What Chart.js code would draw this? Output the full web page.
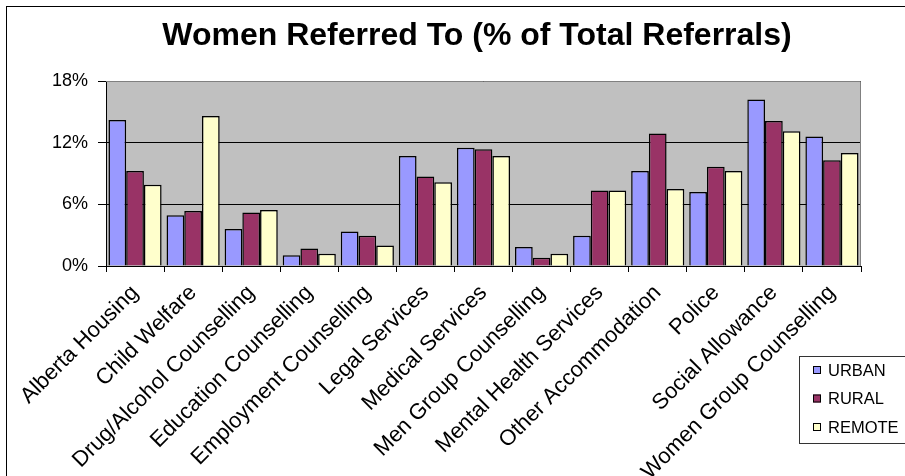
<!DOCTYPE html>
<html>
<head>
<meta charset="utf-8">
<script src="https://cdn.jsdelivr.net/npm/chart.js@4"></script>
<style>
  html, body { margin: 0; padding: 0; background: #fff; }
  #wrap { position: relative; width: 905px; height: 476px; overflow: hidden; }
  #frame { position: absolute; left: 6px; top: 6px; width: 950px; height: 520px; border: 1px solid #000; box-sizing: border-box; pointer-events: none; }
  canvas { position: absolute; left: 0; top: 0; }
</style>
</head>
<body>
<div id="wrap">
  <canvas id="grafico" width="905" height="476"></canvas>
  <div id="frame"></div>
</div>
<script>
// Dados
const categorias = [
  "Alberta Housing", "Child Welfare", "Drug/Alcohol Counselling", "Education Counselling",
  "Employment Counselling", "Legal Services", "Medical Services", "Men Group Counselling",
  "Mental Health Services", "Other Accommodation", "Police", "Social Allowance",
  "Women Group Counselling"
];
const urbano = [14.2, 4.95, 3.6, 1.05, 3.35, 10.7, 11.5, 1.85, 2.95, 9.25, 7.2, 16.2, 12.6];
const rural = [9.25, 5.35, 5.2, 1.7, 2.95, 8.7, 11.35, 0.8, 7.35, 12.9, 9.65, 14.1, 10.3];
const remoto = [7.9, 14.6, 5.45, 1.2, 2.0, 8.15, 10.7, 1.2, 7.35, 7.5, 9.25, 13.1, 11.0];
const ticksY = [0, 6, 12, 18];
const series = ["URBAN", "RURAL", "REMOTE"];
const cores = ["#9999FF", "#993366", "#FFFFCC"];

const fonte = "'Liberation Sans', Arial, sans-serif";

// fundo cinza da área do gráfico + título + legenda
const extras = {
  id: "extras",
  beforeDraw(chart) {
    const { ctx, chartArea: a } = chart;
    ctx.save();
    ctx.fillStyle = "#C0C0C0";
    ctx.fillRect(a.left, a.top, a.right - a.left, a.bottom - a.top);
    ctx.restore();
  },
  afterDraw(chart) {
    const { ctx, chartArea: a } = chart;
    ctx.save();
    // borda cinza superior/direita
    ctx.strokeStyle = "#808080";
    ctx.lineWidth = 1;
    ctx.beginPath();
    ctx.moveTo(a.left, a.top + 0.5);
    ctx.lineTo(a.right - 0.5, a.top + 0.5);
    ctx.lineTo(a.right - 0.5, a.bottom);
    ctx.stroke();
    // título
    ctx.fillStyle = "#000";
    ctx.font = "bold 32px " + fonte;
    ctx.textAlign = "center";
    ctx.textBaseline = "middle";
    ctx.fillText("Women Referred To (% of Total Referrals)", 477, 36);
    // legenda
    ctx.fillStyle = "#fff";
    ctx.fillRect(799, 356, 120, 87);
    ctx.strokeStyle = "#333";
    ctx.strokeRect(799.5, 356.5, 120, 87);
    ctx.font = "16.5px " + fonte;
    ctx.textAlign = "left";
    chart.data.datasets.forEach((ds, i) => {
      const y = 370 + i * 28.5;
      ctx.fillStyle = ds.backgroundColor;
      ctx.fillRect(813, y - 4, 8, 8);
      ctx.strokeStyle = "#000";
      ctx.strokeRect(813.5, y - 3.5, 7, 7);
      ctx.fillStyle = "#000";
      ctx.fillText(ds.label, 828, y + 1);
    });
    ctx.restore();
  }
};

new Chart(document.getElementById("grafico"), {
  type: "bar",
  data: {
    labels: categorias,
    datasets: [
      { label: series[0], data: urbano, backgroundColor: cores[0] },
      { label: series[1], data: rural, backgroundColor: cores[1] },
      { label: series[2], data: remoto, backgroundColor: cores[2] }
    ].map(d => ({ ...d, borderColor: "#000", borderWidth: 1.5, categoryPercentage: 0.915, barPercentage: 1 }))
  },
  options: {
    responsive: false,
    animation: false,
    layout: { padding: { top: 81, right: 44, left: 0, bottom: 0 } },
    plugins: { legend: { display: false }, title: { display: false }, tooltip: { enabled: false } },
    scales: {
      x: {
        offset: true,
        grid: { offset: true, drawOnChartArea: false, color: "#000", tickLength: 6 },
        border: { color: "#000", width: 1 },
        ticks: {
          color: "#000", font: { family: fonte, size: 22 },
          minRotation: 45, maxRotation: 45, autoSkip: false, padding: 8
        },
        afterFit(s) { s.height = 476 - 266; }
      },
      y: {
        min: 0, max: 18,
        afterBuildTicks(s) { s.ticks = ticksY.map(v => ({ value: v })); },
        grid: { color: "#000", tickLength: 8, drawTicks: true },
        border: { color: "#000", width: 1 },
        ticks: {
          color: "#000", font: { family: fonte, size: 18 }, padding: 10,
          callback: v => v + "%"
        },
        afterFit(s) { s.width = 106; }
      }
    }
  },
  plugins: [extras]
});
</script>
</body>
</html>
